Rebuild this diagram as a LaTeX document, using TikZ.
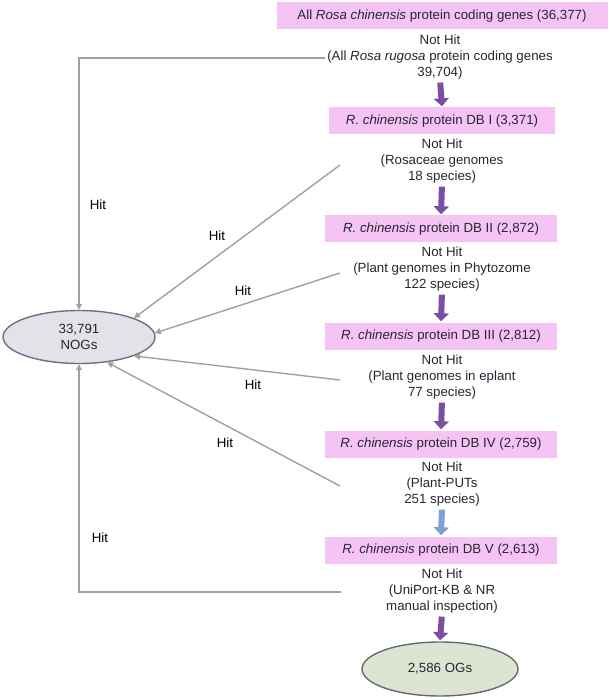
\documentclass[tikz,border=0pt]{standalone}
\usepackage{fontspec}
\setmainfont{Liberation Sans}
\usetikzlibrary{arrows.meta,shapes.geometric}
\definecolor{boxpink}{HTML}{F5C4F5}
\definecolor{arrpurple}{HTML}{7D4CA3}
\definecolor{arrblue}{HTML}{7EA0D2}
\definecolor{hitgray}{HTML}{A0A0A0}
\definecolor{txt}{HTML}{262633}
\definecolor{nogfill}{HTML}{E2E2E8}
\definecolor{nogline}{HTML}{6B7183}
\definecolor{ogfill}{HTML}{DCE4D2}
\definecolor{ogline}{HTML}{6A6A6A}
\begin{document}
\begin{tikzpicture}[x=1pt,y=-1pt,
  every node/.style={font=\fontsize{13.3}{16.2}\selectfont, text=txt},
  dbbox/.style={fill=boxpink, minimum height=27pt, inner xsep=13pt, inner ysep=0pt},
  nhtext/.style={align=center, inner sep=0pt},
  parrow/.style={draw=arrpurple, line width=6pt, -{Triangle[width=15pt,length=8pt]}, shorten <=3pt, shorten >=1pt},
  barrow/.style={parrow, draw=arrblue},
  hit/.style={draw=hitgray, line width=1.4pt, -{Triangle[width=6pt,length=6pt]}},
  hitlabel/.style={inner sep=0pt, text=black},
  nogell/.style={ellipse, draw=nogline, line width=1.4pt, fill=nogfill, minimum width=152pt, minimum height=53pt, inner sep=0pt, align=center},
  ogell/.style={ellipse, draw=ogline, line width=1.4pt, fill=ogfill, minimum width=156pt, minimum height=54pt, inner sep=0pt}
]
\useasboundingbox (0,0) rectangle (612,700);

\node[dbbox, minimum width=331pt] (top) at (442,16) {All \textit{Rosa chinensis} protein coding genes (36,377)};
\node[nhtext] (nh0) at (440,57) {Not Hit\\(All \textit{Rosa rugosa} protein coding genes\\39,704)};
\node[dbbox, minimum width=226pt] (db1) at (442,121) {\textit{R. chinensis} protein DB I (3,371)};
\node[nhtext] (nh1) at (442,161) {Not Hit\\(Rosaceae genomes\\18 species)};
\node[dbbox, minimum width=232pt] (db2) at (441,229) {\textit{R. chinensis} protein DB II (2,872)};
\node[nhtext] (nh2) at (442,269) {Not Hit\\(Plant genomes in Phytozome\\122 species)};
\node[dbbox, minimum width=232pt] (db3) at (441,336) {\textit{R. chinensis} protein DB III (2,812)};
\node[nhtext] (nh3) at (442,377) {Not Hit\\(Plant genomes in eplant\\77 species)};
\node[dbbox, minimum width=232pt] (db4) at (441,444) {\textit{R. chinensis} protein DB IV (2,759)};
\node[nhtext] (nh4) at (442,484) {Not Hit\\(Plant-PUTs\\251 species)};
\node[dbbox, minimum width=232pt] (db5) at (441,550) {\textit{R. chinensis} protein DB V (2,613)};
\node[nhtext] (nh5) at (442,591) {Not Hit\\(UniPort-KB \& NR\\manual inspection)};
\node[ogell] (ogs) at (440,669) {2,586 OGs};
\node[nogell] (nogs) at (79,337) {33,791\\NOGs};

\draw[parrow] (nh0.south) -- (db1.north);
\draw[parrow] (nh1.south) -- (db2.north);
\draw[parrow] (nh2.south) -- (db3.north);
\draw[parrow] (nh3.south) -- (db4.north);
\draw[barrow] (nh4.south) -- (db5.north);
\draw[parrow] (nh5.south) -- (ogs.north);

\coordinate (h0) at (325,58);
\coordinate (h1) at (340,165);
\coordinate (h2) at (340,273);
\coordinate (h3) at (340,380);
\coordinate (h4) at (340,486);
\coordinate (h5) at (341,592);

\draw[hit] (h0) -| (nogs.north);
\draw[hit] (h1) -- (nogs.19);
\draw[hit] (h2) -- (nogs.3);
\draw[hit] (h3) -- (nogs.-19);
\draw[hit] (h4) -- (nogs.-42);
\draw[hit] (h5) -| (nogs.south);

\node[hitlabel] (l0) at (98,205) {Hit};
\node[hitlabel] (l1) at (217,236) {Hit};
\node[hitlabel] (l2) at (243,291) {Hit};
\node[hitlabel] (l3) at (253,385) {Hit};
\node[hitlabel] (l4) at (225,443) {Hit};
\node[hitlabel] (l5) at (100,538) {Hit};
\end{tikzpicture}
\end{document}
